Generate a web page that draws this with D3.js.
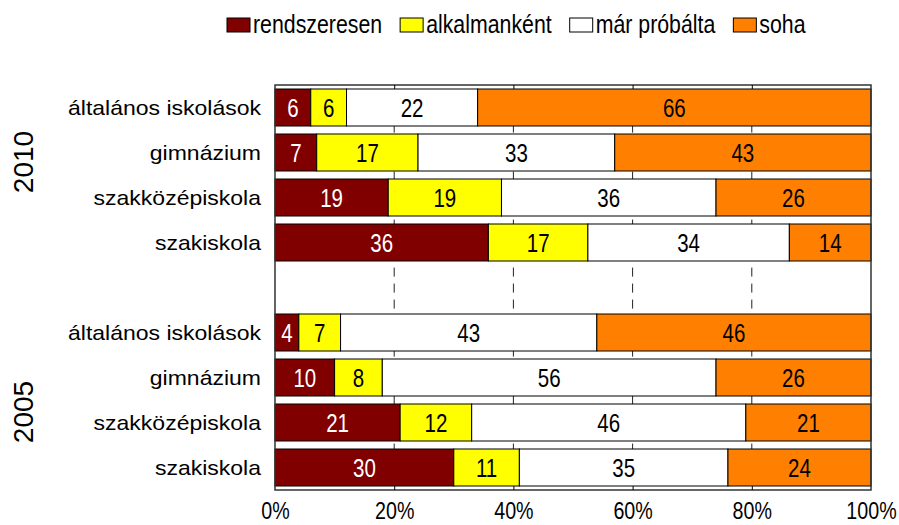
<!DOCTYPE html>
<html>
<head>
<meta charset="utf-8">
<script src="https://cdn.jsdelivr.net/npm/d3@7"></script>
<style>
    body { margin: 0; background: #fff; }
    svg { display: block; }
</style>
</head>
<body>
<svg id="chart" width="899" height="525"></svg>
<script>
// Data
const seriesNames = ['rendszeresen', 'alkalmanként', 'már próbálta', 'soha'];
const seriesColors = ['#800000', '#ffff00', '#ffffff', '#ff8000'];
const schools = ['általános iskolások', 'gimnázium', 'szakközépiskola', 'szakiskola'];
const years = ['2010', '2005'];
const values2010 = [
    [6, 6, 22, 66],
    [7, 17, 33, 43],
    [19, 19, 36, 26],
    [35.8, 16.7, 33.8, 13.7]
];
const values2005 = [
    [4, 7, 43, 46],
    [10, 8, 56, 26],
    [21, 12, 46, 21],
    [30, 11, 35, 24]
];
const xTicks = [0, 20, 40, 60, 80, 100];

// Measures
const plot = { left: 275, right: 871, top: 85, bottom: 490 };
const font = '"Liberation Sans", Arial, sans-serif';
const narrow = 0.82;   // condensed look of the numbers / legend
const wide = 1.15;     // category labels are drawn a bit wider

// rows: 2010 block, an empty spacer row, 2005 block
const rows = [];
schools.forEach((s, i) => rows.push({ key: '2010-' + i, year: '2010', school: s, values: values2010[i] }));
rows.push({ key: 'gap', year: null, school: '', values: null });
schools.forEach((s, i) => rows.push({ key: '2005-' + i, year: '2005', school: s, values: values2005[i] }));
const dataRows = rows.filter(r => r.values);

const xScale = d3.scaleLinear().domain([0, 100]).range([plot.left, plot.right]);
const yScale = d3.scaleBand()
    .domain(rows.map(r => r.key))
    .range([plot.top, plot.bottom])
    .paddingInner(8 / 45)
    .paddingOuter(4 / 45);
const color = d3.scaleOrdinal().domain(seriesNames).range(seriesColors);

const svg = d3.select('#chart');

// text placed at (x, y) and squeezed / stretched horizontally
const placeText = (sel, x, y, sx) =>
    sel.attr('transform', (d, i) => `translate(${x(d, i)},${y(d, i)}) scale(${sx},1)`);

// plot background
svg.append('rect')
    .attr('x', plot.left)
    .attr('y', plot.top)
    .attr('width', plot.right - plot.left)
    .attr('height', plot.bottom - plot.top)
    .attr('fill', '#fff');

// dashed vertical grid
svg.append('g')
    .selectAll('line')
    .data(xTicks.slice(1, -1))
    .enter()
    .append('line')
    .attr('x1', d => xScale(d))
    .attr('x2', d => xScale(d))
    .attr('y1', plot.top)
    .attr('y2', plot.bottom)
    .attr('stroke', '#222')
    .attr('stroke-width', 1)
    .attr('stroke-dasharray', '9,7')
    .attr('stroke-dashoffset', 9.4);

// bars
const stack = d3.stack().keys(d3.range(seriesNames.length));

const gRows = svg.append('g')
    .selectAll('g')
    .data(dataRows)
    .enter()
    .append('g')
    .attr('transform', d => `translate(0,${yScale(d.key)})`);

gRows.each(function (row) {
    const segs = stack([row.values])
        .map((layer, i) => ({ i: i, x0: layer[0][0], x1: layer[0][1], v: row.values[i] }));
    const g = d3.select(this);

    g.selectAll('rect')
        .data(segs)
        .enter()
        .append('rect')
        .attr('x', d => xScale(d.x0))
        .attr('y', 0)
        .attr('width', d => xScale(d.x1) - xScale(d.x0))
        .attr('height', yScale.bandwidth())
        .attr('fill', d => seriesColors[d.i])
        .attr('stroke', '#000')
        .attr('stroke-width', 1);

    g.selectAll('text')
        .data(segs)
        .enter()
        .append('text')
        .call(placeText, d => (xScale(d.x0) + xScale(d.x1)) / 2, () => yScale.bandwidth() / 2, narrow)
        .attr('dy', '0.36em')
        .attr('text-anchor', 'middle')
        .attr('font-family', font)
        .attr('font-size', 25)
        .attr('fill', d => d.i === 0 ? '#fff' : '#000')
        .text(d => d3.format('.0f')(d.v));
});

// plot frame
svg.append('rect')
    .attr('x', plot.left)
    .attr('y', plot.top)
    .attr('width', plot.right - plot.left)
    .attr('height', plot.bottom - plot.top)
    .attr('fill', 'none')
    .attr('stroke', '#333')
    .attr('stroke-width', 1.5);

// small inner ticks on the top and bottom frame lines
const innerTicks = d3.axisBottom(xScale).tickValues(xTicks.slice(1, -1)).tickSize(4).tickFormat('');
svg.append('g').attr('transform', `translate(0,${plot.top})`).call(innerTicks)
    .call(g => g.select('.domain').remove());
svg.append('g').attr('transform', `translate(0,${plot.bottom})`).call(innerTicks.tickSize(-4))
    .call(g => g.select('.domain').remove());

// x axis
const xAxis = d3.axisBottom(xScale)
    .tickValues(xTicks)
    .tickFormat(d => d + '%')
    .tickSize(0)
    .tickPadding(12);

const gX = svg.append('g')
    .attr('transform', `translate(0,${plot.bottom})`)
    .call(xAxis);
gX.select('.domain').remove();
gX.selectAll('text')
    .attr('transform', `scale(${narrow},1)`)
    .attr('font-family', font)
    .attr('font-size', 24)
    .attr('fill', '#000');

// category labels
svg.append('g')
    .selectAll('text')
    .data(dataRows)
    .enter()
    .append('text')
    .call(placeText, () => 261, d => yScale(d.key) + yScale.bandwidth() / 2, wide)
    .attr('dy', '0.36em')
    .attr('text-anchor', 'end')
    .attr('font-family', font)
    .attr('font-size', 20)
    .attr('fill', '#000')
    .text(d => d.school);

// year labels
const yearLabelY = { '2010': 162, '2005': 412 };
svg.append('g')
    .selectAll('text')
    .data(years)
    .enter()
    .append('text')
    .attr('transform', d => `translate(33,${yearLabelY[d]}) rotate(-90)`)
    .attr('text-anchor', 'middle')
    .attr('font-family', font)
    .attr('font-size', 28)
    .attr('fill', '#000')
    .text(d => d);

// legend
const legend = svg.append('g').attr('transform', 'translate(227,18)');
let lx = 0;
seriesNames.forEach((name) => {
    const item = legend.append('g').attr('transform', `translate(${lx},0)`);
    item.append('rect')
        .attr('width', 23)
        .attr('height', 14)
        .attr('fill', color(name))
        .attr('stroke', '#000')
        .attr('stroke-width', 1);
    const t = item.append('text')
        .attr('transform', `translate(26,15) scale(${narrow},1)`)
        .attr('font-family', font)
        .attr('font-size', 26)
        .attr('fill', '#000')
        .text(name);
    lx += 26 + t.node().getComputedTextLength() * narrow + 18;
});
</script>
</body>
</html>
